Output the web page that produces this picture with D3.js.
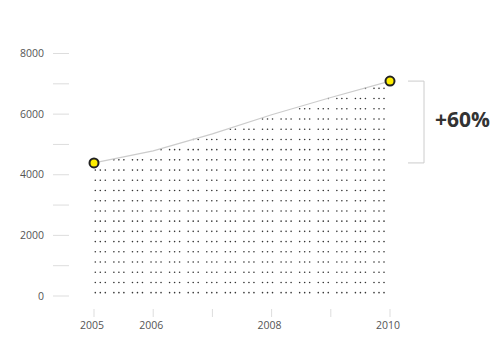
<!DOCTYPE html>
<html>
<head>
	<meta charset="utf-8">
	<title>Growth 2005-2010</title>
	<script src="https://d3js.org/d3.v7.min.js"></script>
	<style>
		body { margin: 0; background: #fff; }
		text { font-family: "Open Sans", sans-serif; }
	</style>
</head>
<body>
	<div id="chart"></div>
	<script>
		// data
		const years = [2005, 2006, 2007, 2008, 2009, 2010];
		const values = [4390, 4790, 5350, 5980, 6550, 7090];
		const yTicks = [0, 1000, 2000, 3000, 4000, 5000, 6000, 7000, 8000];
		const yLabels = [0, 2000, 4000, 6000, 8000];
		const xLabels = [2005, 2006, 2008, 2010];
		const changeLabel = "+60%";

		const width = 500, height = 350;

		const x = d3.scaleLinear().domain([2005, 2010]).range([94, 390]);
		const y = d3.scaleLinear().domain([0, 8000]).range([296, 53.5]);

		const svg = d3.select("#chart")
			.append("svg")
			.attr("width", width)
			.attr("height", height);

		// y axis: short tick lines, labels every 2000
		const yAxis = svg.append("g");
		yAxis.selectAll("line")
			.data(yTicks)
			.enter().append("line")
			.attr("x1", 53).attr("x2", 69)
			.attr("y1", d => y(d)).attr("y2", d => y(d))
			.style("stroke", "#ddd")
			.style("stroke-width", 1);
		yAxis.selectAll("text")
			.data(yLabels)
			.enter().append("text")
			.attr("x", 44)
			.attr("y", d => y(d))
			.attr("dy", "0.35em")
			.attr("text-anchor", "end")
			.style("font-size", "10.5px")
			.style("fill", "#555")
			.text(d => d);

		// x axis
		const xAxis = svg.append("g");
		xAxis.selectAll("line")
			.data(years)
			.enter().append("line")
			.attr("x1", d => x(d)).attr("x2", d => x(d))
			.attr("y1", 309).attr("y2", 317)
			.style("stroke", "#ddd")
			.style("stroke-width", 1);
		xAxis.selectAll("text")
			.data(xLabels)
			.enter().append("text")
			.attr("x", d => x(d) - 2)
			.attr("y", 329)
			.attr("text-anchor", "middle")
			.style("font-size", "10.5px")
			.style("fill", "#555")
			.text(d => d);

		// value of the line at a given year
		const lineAt = yr => {
			const i = Math.min(Math.max(d3.bisectRight(years, yr) - 1, 0), years.length - 2);
			const t = (yr - years[i]) / (years[i + 1] - years[i]);
			return values[i] + t * (values[i + 1] - values[i]);
		};

		// dot pattern under the line: clusters of 3 dots
		const clusters = 16, rowStep = 337, rowStart = 110;
		const dots = [];
		for (let c = 0; c < clusters; c++) {
			for (let k = 0; k < 3; k++) {
				const px = x(2005) + 1.3 + c * 18.58 + k * 5;
				const yr = x.invert(px);
				const top = lineAt(yr);
				for (let v = rowStart; v < top; v += rowStep) {
					dots.push({ px: px, v: v });
				}
			}
		}
		svg.append("g").selectAll("circle")
			.data(dots)
			.enter().append("circle")
			.attr("cx", d => d.px)
			.attr("cy", d => y(d.v))
			.attr("r", 0.8)
			.style("fill", "#333");

		// the line
		const line = d3.line()
			.x((d, i) => x(years[i]))
			.y(d => y(d));
		svg.append("path")
			.datum(values)
			.attr("d", line)
			.style("fill", "none")
			.style("stroke", "#ccc")
			.style("stroke-width", 1.2);

		// end points
		const ends = [0, values.length - 1];
		svg.selectAll(".end")
			.data(ends)
			.enter().append("circle")
			.attr("class", "end")
			.attr("cx", i => x(years[i]))
			.attr("cy", i => y(values[i]))
			.attr("r", 4.5)
			.style("fill", "#ffee00")
			.style("stroke", "#222")
			.style("stroke-width", 2);

		// bracket with the change
		const yTop = y(values[values.length - 1]), yBot = y(values[0]);
		svg.append("path")
			.attr("d", `M408,${yTop}H424V${yBot}H408`)
			.style("fill", "none")
			.style("stroke", "#ccc")
			.style("stroke-width", 1);
		svg.append("text")
			.attr("x", 435)
			.attr("y", (yTop + yBot) / 2 + 5)
			.style("font-size", "21px")
			.style("font-weight", "bold")
			.style("fill", "#333")
			.text(changeLabel);
	</script>
</body>
</html>
